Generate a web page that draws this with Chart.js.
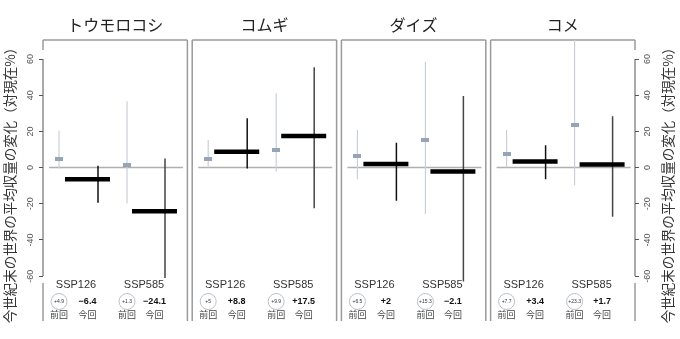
<!DOCTYPE html>
<html>
<head>
<meta charset="utf-8">
<script src="https://cdn.jsdelivr.net/npm/chart.js@4.4.1/dist/chart.umd.min.js"></script>
<style>
html, body { margin: 0; padding: 0; background: #fff; }
#wrap { width: 680px; height: 339px; }
</style>
</head>
<body>
<div id="wrap"><canvas id="chart" width="680" height="339"></canvas></div>
<script>
const crops = ['トウモロコシ', 'コムギ', 'ダイズ', 'コメ'];
const scenarios = ['SSP126', 'SSP585'];
const yTicks = [-60, -40, -20, 0, 20, 40, 60];
const axisTitle = '今世紀末の世界の平均収量の変化（対現在%）';

// 前回 (previous assessment): median and range
const prev126 = [4.9, 5, 6.5, 7.7];
const prev126Lo = [-0.5, 0, -6.4, 0];
const prev126Hi = [20.3, 15.2, 20.7, 20.7];
const prev585 = [1.3, 9.9, 15.3, 23.3];
const prev585Lo = [-19.8, -2, -25.7, -9.7];
const prev585Hi = [36.7, 41, 58.5, 72];

// 今回 (this assessment)
const cur126 = [-6.4, 8.8, 2, 3.4];
const cur126Lo = [-19.4, -0.5, -18.3, -6.5];
const cur126Hi = [1, 27.3, 13.7, 12.4];
const cur585 = [-24.1, 17.5, -2.1, 1.7];
const cur585Lo = [-61, -22.5, -63, -27.2];
const cur585Hi = [5, 55.4, 39.5, 28.4];

// layout inside a panel, in px -> panel units
const PITCH = 149.2;
const u = px => px / PITCH;
const L = {
    panelW: u(144.4),
    zero: [u(6), u(140)],
    prevX: [u(16), u(84)],
    whiskX: [u(55), u(122)],
    barX: [[u(22), u(67)], [u(89), u(134)]],
    sspX: [u(33), u(101)],
    curX: [u(44.5), u(111.5)]
};

const fmt = v => (v > 0 ? '+' : v < 0 ? '−' : '') + Math.abs(v);
const seg = (x1, y1, x2, y2) => [{ x: x1, y: y1 }, { x: x2, y: y2 }, { x: x2, y: null }];
const panels = crops.map((_, i) => i);

const zeroData = panels.flatMap(i => seg(i + L.zero[0], 0, i + L.zero[1], 0));
const prevWhisk = panels.flatMap(i => [
    ...seg(i + L.prevX[0], prev126Lo[i], i + L.prevX[0], prev126Hi[i]),
    ...seg(i + L.prevX[1], prev585Lo[i], i + L.prevX[1], prev585Hi[i])
]);
const prevPts = panels.flatMap(i => [
    { x: i + L.prevX[0], y: prev126[i] },
    { x: i + L.prevX[1], y: prev585[i] }
]);
const whisk126 = panels.flatMap(i => seg(i + L.whiskX[0], cur126Lo[i], i + L.whiskX[0], cur126Hi[i]));
const whisk585 = panels.flatMap(i => seg(i + L.whiskX[1], cur585Lo[i], i + L.whiskX[1], cur585Hi[i]));
const curBars = panels.flatMap(i => [
    ...seg(i + L.barX[0][0], cur126[i], i + L.barX[0][1], cur126[i]),
    ...seg(i + L.barX[1][0], cur585[i], i + L.barX[1][1], cur585[i])
]);

const mark = document.createElement('canvas');
mark.width = 8;
mark.height = 4;
const mc = mark.getContext('2d');
mc.fillStyle = '#97a4b6';
mc.fillRect(0, 0, 8, 4);

const lineSet = (data, color, width, order) => ({
    data, borderColor: color, borderWidth: width, pointRadius: 0,
    spanGaps: false, tension: 0, borderCapStyle: 'butt', order
});

const panelDecor = {
    id: 'panelDecor',
    beforeDatasetsDraw(chart) {
        const { ctx, scales: { x, y } } = chart;
        const top = 40, bottom = 321;
        ctx.save();
        ctx.strokeStyle = '#9a9a9a';
        ctx.lineWidth = 1.5;
        panels.forEach(i => {
            const l = x.getPixelForValue(i), r = x.getPixelForValue(i + L.panelW);
            ctx.beginPath();
            ctx.moveTo(l, top); ctx.lineTo(r, top);
            if (i === 0) {
                ctx.moveTo(l, top); ctx.lineTo(l, 50);
                ctx.moveTo(l, 283); ctx.lineTo(l, bottom);
            } else {
                ctx.moveTo(l, top); ctx.lineTo(l, bottom);
            }
            if (i === crops.length - 1) {
                ctx.moveTo(r, top); ctx.lineTo(r, 50);
                ctx.moveTo(r, 283); ctx.lineTo(r, bottom);
            } else {
                ctx.moveTo(r, top); ctx.lineTo(r, bottom);
            }
            ctx.stroke();
        });
        // axis lines from -60 to 60
        ctx.strokeStyle = '#555';
        ctx.lineWidth = 1;
        const y0 = y.getPixelForValue(60), y1 = y.getPixelForValue(-60);
        [chart.chartArea.left, chart.chartArea.right].forEach(px => {
            ctx.beginPath();
            ctx.moveTo(px, y0); ctx.lineTo(px, y1);
            ctx.stroke();
        });
        ctx.restore();
    },
    afterDraw(chart) {
        const { ctx, scales: { x } } = chart;
        ctx.save();
        ctx.textAlign = 'center';
        ctx.textBaseline = 'middle';
        panels.forEach(i => {
            const px = v => x.getPixelForValue(i + v);
            ctx.fillStyle = '#222';
            ctx.font = '16px "Noto Sans CJK JP"';
            ctx.fillText(crops[i], px(L.panelW / 2), 25);
            const prev = [prev126[i], prev585[i]];
            const cur = [cur126[i], cur585[i]];
            scenarios.forEach((s, k) => {
                ctx.fillStyle = '#333';
                ctx.font = '11px "Liberation Sans"';
                ctx.fillText(s, px(L.sspX[k]), 285);
                ctx.beginPath();
                ctx.arc(px(L.prevX[k]), 301.5, 8, 0, Math.PI * 2);
                ctx.fillStyle = '#fff';
                ctx.fill();
                ctx.strokeStyle = '#b7c0cd';
                ctx.lineWidth = 1;
                ctx.stroke();
                ctx.fillStyle = '#333';
                ctx.font = '5px "Liberation Sans"';
                ctx.fillText(fmt(prev[k]), px(L.prevX[k]), 301.5);
                ctx.fillStyle = '#111';
                ctx.font = 'bold 9px "Liberation Sans"';
                ctx.fillText(fmt(cur[k]), px(L.curX[k]), 301.5);
                ctx.fillStyle = '#444';
                ctx.font = '9px "Noto Sans CJK JP"';
                ctx.fillText('前回', px(L.prevX[k]), 315);
                ctx.fillText('今回', px(L.curX[k]), 315);
            });
        });
        ctx.fillStyle = '#333';
        ctx.font = '13.5px "Noto Sans CJK JP"';
        [10, 668].forEach(tx => {
            ctx.save();
            ctx.translate(tx, 182);
            ctx.rotate(-Math.PI / 2);
            ctx.fillText(axisTitle, 0, 0);
            ctx.restore();
        });
        ctx.restore();
    }
};

const yAxis = (position, width, pad) => ({
    type: 'linear',
    position,
    min: -63.5,
    max: 70.5,
    afterBuildTicks: s => { s.ticks = yTicks.map(v => ({ value: v })); },
    afterFit: s => { s.width = width; s.paddingTop = 0; s.paddingBottom = 0; },
    border: { display: false },
    grid: { drawOnChartArea: false, drawTicks: true, tickLength: 4, color: '#555' },
    ticks: {
        autoSkip: false, minRotation: 90, maxRotation: 90, crossAlign: 'center',
        padding: pad, color: '#555', font: { family: 'Liberation Sans', size: 9 }
    }
});

new Chart(document.getElementById('chart').getContext('2d'), {
    type: 'line',
    data: {
        datasets: [
            lineSet(zeroData, '#b0b0b0', 1.5, 10),
            lineSet(prevWhisk, '#c9d0d9', 1.2, 9),
            { data: prevPts, showLine: false, pointStyle: mark, pointRadius: 4, order: 8 },
            lineSet(whisk126, '#111', 1.5, 6),
            lineSet(whisk585, '#444', 1.5, 6),
            lineSet(curBars, '#000', 4.5, 5)
        ]
    },
    options: {
        responsive: false,
        animation: false,
        events: [],
        layout: { padding: { top: 40, bottom: 56.5, left: 0, right: 0 } },
        plugins: { legend: { display: false }, tooltip: { enabled: false } },
        scales: {
            x: { type: 'linear', min: 0, max: 3 + L.panelW, display: false },
            y: yAxis('left', 43, 2),
            y2: yAxis('right', 45, 2)
        }
    },
    plugins: [panelDecor]
});
</script>
</body>
</html>
